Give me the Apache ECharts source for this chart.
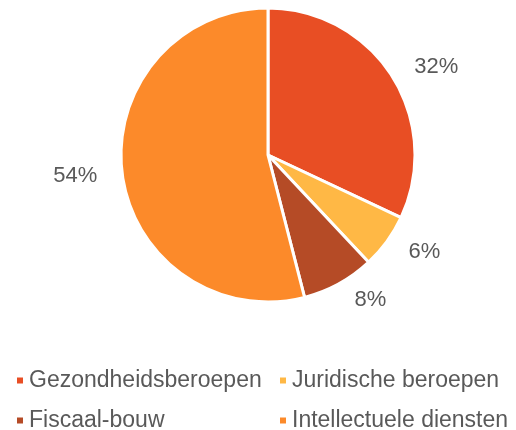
<!DOCTYPE html>
<html>
<head>
<meta charset="utf-8">
<script src="https://cdn.jsdelivr.net/npm/echarts@6/dist/echarts.min.js"></script>
<style>
  html, body { margin: 0; padding: 0; background: #fff; }
  #chart { width: 516px; height: 430px; }
</style>
</head>
<body>
<div id="chart"></div>
<script>
const categories = ['Gezondheidsberoepen', 'Juridische beroepen', 'Fiscaal-bouw', 'Intellectuele diensten'];
const values = [32, 6, 8, 54];
const colors = ['#E84E24', '#FFB845', '#B54B26', '#FC8A2A'];

// legend grid: 2 columns x 2 rows, in reading order
const legendLeft = [15, 278, 15, 278];
const legendTop = [369, 369, 409, 409];

const chart = echarts.init(document.getElementById('chart'));

const legends = categories.map((name, i) => ({
    data: [name],
    left: legendLeft[i],
    top: legendTop[i],
    padding: 0,
    icon: 'rect',
    itemWidth: 8,
    itemHeight: 8,
    textStyle: {
        fontFamily: 'Liberation Sans, Arial, sans-serif',
        fontSize: 23,
        color: '#595959'
    }
}));

chart.setOption({
    animation: false,
    color: colors,
    legend: legends,
    series: [
        {
            type: 'pie',
            center: [268, 155],
            radius: 147,
            startAngle: 90,
            clockwise: true,
            itemStyle: {
                borderColor: '#fff',
                borderWidth: 3
            },
            label: {
                show: true,
                position: 'outside',
                formatter: '{c}%',
                fontFamily: 'Liberation Sans, Arial, sans-serif',
                fontSize: 22,
                color: '#595959'
            },
            labelLine: {
                show: false,
                length: 18,
                length2: 2
            },
            data: categories.map((name, i) => ({ name: name, value: values[i] }))
        }
    ]
});
</script>
</body>
</html>
